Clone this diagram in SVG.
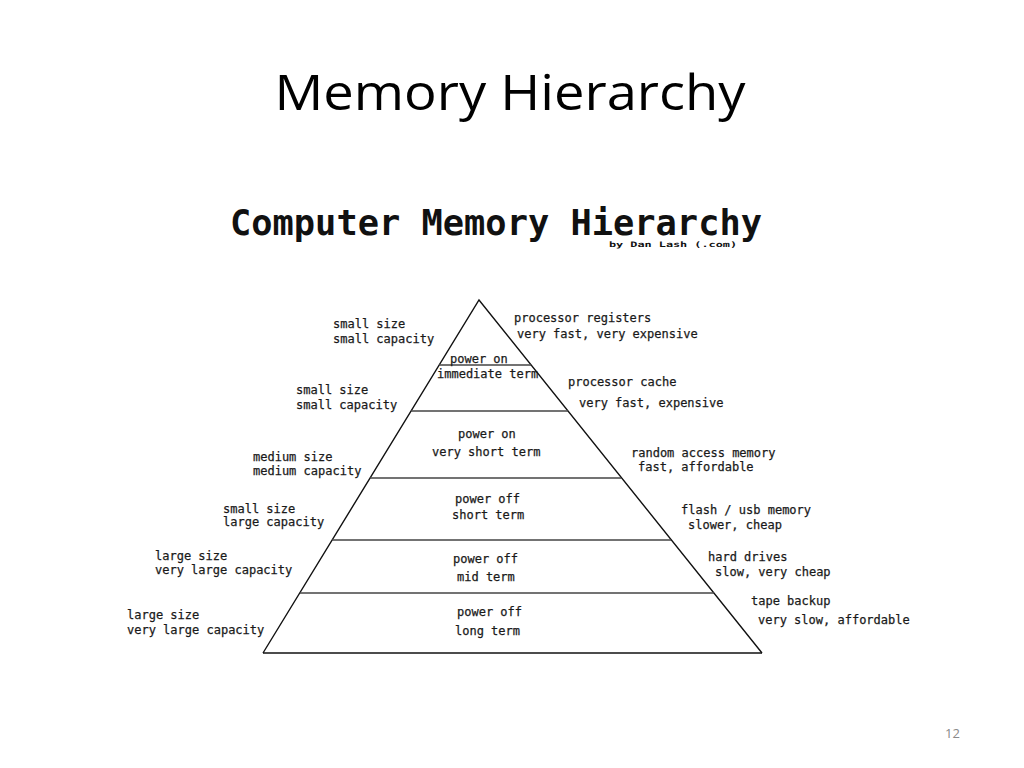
<svg xmlns="http://www.w3.org/2000/svg" width="1024" height="768" viewBox="0 0 1024 768">
<style>
.t{font-family:"DejaVu Sans Mono","Liberation Mono",monospace;font-size:12px;fill:#1a1a1a;stroke:#1a1a1a;stroke-width:0.25}
.edge{stroke:#111;stroke-width:1.4;fill:none}
.lvl{stroke:#444;stroke-width:1.3;fill:none}
</style>
<rect width="1024" height="768" fill="#fff"/>
<text x="510" y="110" text-anchor="middle" font-family="'Open Sans','Liberation Sans',sans-serif" font-size="49" fill="#000" textLength="471" lengthAdjust="spacingAndGlyphs">Memory Hierarchy</text>
<g id="heading">
<text x="230" y="235" font-family="'DejaVu Sans Mono','Liberation Mono',monospace" font-weight="bold" font-size="36" fill="#111" textLength="532" lengthAdjust="spacingAndGlyphs">Computer Memory Hierarchy</text>
<text x="609" y="247" font-family="'DejaVu Sans Mono','Liberation Mono',monospace" font-weight="bold" font-size="7.5" fill="#111" textLength="128" lengthAdjust="spacingAndGlyphs">by Dan Lash (.com)</text>
</g>
<g id="connectors">
<polyline class="edge" points="263,653 479,300 762,653"/>
<line class="edge" x1="263" y1="653" x2="762" y2="653"/>
<line class="lvl" x1="439" y1="365" x2="531" y2="365"/>
<line class="lvl" x1="411" y1="411" x2="568" y2="411"/>
<line class="lvl" x1="370" y1="478" x2="621" y2="478"/>
<line class="lvl" x1="332" y1="540" x2="671" y2="540"/>
<line class="lvl" x1="300" y1="593" x2="714" y2="593"/>
</g>
<g id="level1">
<text class="t" x="450" y="363">power on</text>
<text class="t" x="437" y="378">immediate term</text>
<text class="t" x="514" y="322">processor registers</text>
<text class="t" x="517" y="338">very fast, very expensive</text>
<text class="t" x="333" y="328">small size</text>
<text class="t" x="333" y="343">small capacity</text>
</g>
<g id="level2">
<text class="t" x="568" y="386">processor cache</text>
<text class="t" x="579" y="407">very fast, expensive</text>
<text class="t" x="296" y="394">small size</text>
<text class="t" x="296" y="409">small capacity</text>
</g>
<g id="level3">
<text class="t" x="458" y="438">power on</text>
<text class="t" x="432" y="456">very short term</text>
<text class="t" x="631" y="457">random access memory</text>
<text class="t" x="638" y="471">fast, affordable</text>
<text class="t" x="253" y="461">medium size</text>
<text class="t" x="253" y="475">medium capacity</text>
</g>
<g id="level4">
<text class="t" x="455" y="503">power off</text>
<text class="t" x="452" y="519">short term</text>
<text class="t" x="681" y="514">flash / usb memory</text>
<text class="t" x="688" y="529">slower, cheap</text>
<text class="t" x="223" y="513">small size</text>
<text class="t" x="223" y="526">large capacity</text>
</g>
<g id="level5">
<text class="t" x="453" y="563">power off</text>
<text class="t" x="457" y="581">mid term</text>
<text class="t" x="708" y="561">hard drives</text>
<text class="t" x="715" y="576">slow, very cheap</text>
<text class="t" x="155" y="560">large size</text>
<text class="t" x="155" y="574">very large capacity</text>
</g>
<g id="level6">
<text class="t" x="457" y="616">power off</text>
<text class="t" x="455" y="635">long term</text>
<text class="t" x="751" y="605">tape backup</text>
<text class="t" x="758" y="624">very slow, affordable</text>
<text class="t" x="127" y="619">large size</text>
<text class="t" x="127" y="634">very large capacity</text>
</g>
<text x="945" y="738" font-family="'Open Sans','Liberation Sans',sans-serif" font-size="13" fill="#8a8a8a">12</text>
</svg>
